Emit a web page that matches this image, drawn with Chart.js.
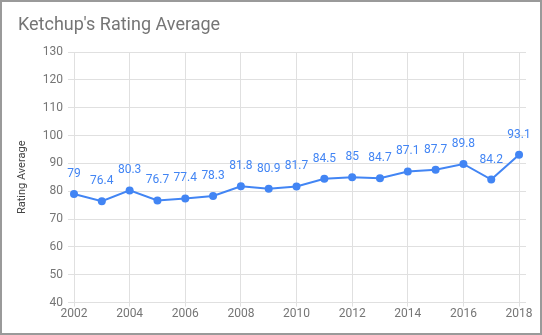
<!DOCTYPE html>
<html>
<head>
<meta charset="utf-8">
<script src="https://cdn.jsdelivr.net/npm/chart.js@4"></script>
<style>
  html, body { margin: 0; padding: 0; background: #fff; }
  #wrap { position: relative; width: 542px; height: 335px; box-sizing: border-box; border: 2px solid #9a9a9a; background: #fff; }
  #c { position: absolute; left: 0; top: 0; }
</style>
</head>
<body>
<div id="wrap"><canvas id="c" width="538" height="331"></canvas></div>
<script>
const chartTitle = "Ketchup's Rating Average";
const yAxisTitle = "Rating Average";
const years = [2002, 2003, 2004, 2005, 2006, 2007, 2008, 2009, 2010, 2011, 2012, 2013, 2014, 2015, 2016, 2017, 2018];
const ratings = [79, 76.4, 80.3, 76.7, 77.4, 78.3, 81.8, 80.9, 81.7, 84.5, 85, 84.7, 87.1, 87.7, 89.8, 84.2, 93.1];
const xTickLabels = [2002, 2004, 2006, 2008, 2010, 2012, 2014, 2016, 2018];
const yTickValues = [40, 50, 60, 70, 80, 90, 100, 110, 120, 130];

const blue = '#4285f4';
const fontFam = 'Roboto, "Noto Sans", Arial, sans-serif';

const titlePlugin = {
  id: 'fixedTitle',
  afterDraw(chart) {
    const ctx = chart.ctx;
    ctx.save();
    ctx.font = '18px ' + fontFam;
    ctx.fillStyle = '#757575';
    ctx.textAlign = 'left';
    ctx.textBaseline = 'middle';
    ctx.fillText(chartTitle, 16, 23);
    ctx.restore();
  }
};

const labelPlugin = {
  id: 'valueLabels',
  afterDatasetsDraw(chart) {
    const ctx = chart.ctx;
    const meta = chart.getDatasetMeta(0);
    ctx.save();
    ctx.font = '12px ' + fontFam;
    ctx.fillStyle = blue;
    ctx.textAlign = 'center';
    ctx.textBaseline = 'middle';
    meta.data.forEach((pt, i) => {
      ctx.fillText(String(ratings[i]), pt.x, pt.y - 20);
    });
    ctx.restore();
  }
};

new Chart(document.getElementById('c'), {
  type: 'line',
  data: {
    datasets: [{
      data: years.map((y, i) => ({ x: y, y: ratings[i] })),
      borderColor: blue,
      backgroundColor: blue,
      borderWidth: 2,
      pointRadius: 4,
      pointBorderWidth: 0,
      pointBackgroundColor: blue,
      tension: 0,
      fill: false,
      clip: false
    }]
  },
  options: {
    responsive: false,
    animation: false,
    layout: { padding: { top: 50, right: 14, bottom: 12, left: 0 } },
    plugins: { legend: { display: false }, tooltip: { enabled: false }, title: { display: false } },
    scales: {
      x: {
        type: 'linear',
        min: 2002,
        max: 2018.25,
        afterBuildTicks(scale) { scale.ticks = xTickLabels.map(v => ({ value: v })); },
        ticks: {
          color: '#757575',
          font: { size: 12, family: fontFam },
          padding: 0,
          maxRotation: 0,
          callback: v => String(v)
        },
        grid: { color: '#e0e0e0', tickLength: 4, drawTicks: true },
        border: { display: false }
      },
      y: {
        type: 'linear',
        min: 40,
        max: 130,
        afterBuildTicks(scale) { scale.ticks = yTickValues.map(v => ({ value: v })); },
        afterFit(scale) { scale.width = 72; },
        ticks: {
          color: '#757575',
          font: { size: 12, family: fontFam },
          padding: 5
        },
        grid: { color: '#e0e0e0', tickLength: 6 },
        border: { display: false },
        title: {
          display: true,
          text: yAxisTitle,
          color: '#444',
          font: { size: 11, family: fontFam },
          padding: { top: 14, bottom: 0 }
        }
      }
    }
  },
  plugins: [titlePlugin, labelPlugin]
});
</script>
</body>
</html>
